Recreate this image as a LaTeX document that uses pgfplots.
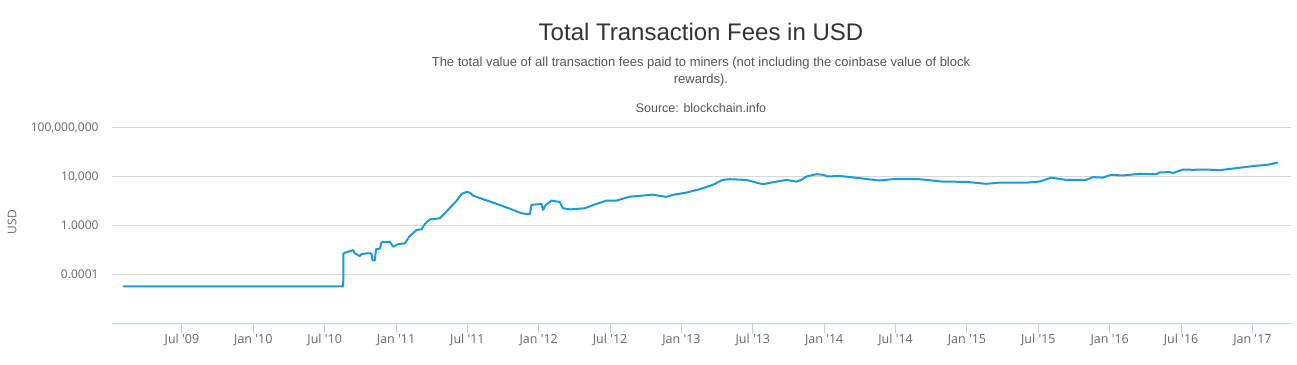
\documentclass[border=0pt]{standalone}
\usepackage{pgfplots}
\pgfplotsset{compat=1.18}
\usepackage{fontspec}
\setmainfont{Liberation Sans}
\newfontfamily\tickfont{Open Sans}
\definecolor{linecol}{HTML}{1A9BD7}
\definecolor{gridcol}{HTML}{D8D8D8}
\definecolor{axiscol}{HTML}{C0D0E0}
\definecolor{titlecol}{HTML}{333333}
\definecolor{subcol}{HTML}{555555}
\definecolor{tickcol}{HTML}{666666}

\pgfplotstableread{
x y
2009.087 1e-5
2010.630 1e-5
2010.631 5.1e-3
2010.641 5.8e-3
2010.700 9.5e-3
2010.711 5.1e-3
2010.746 3.1e-3
2010.758 4.5e-3
2010.793 5.1e-3
2010.828 5.1e-3
2010.835 1.4e-3
2010.852 1.4e-3
2010.859 0.011
2010.887 0.013
2010.898 0.042
2010.957 0.047
2010.980 0.018
2011.015 0.030
2011.062 0.034
2011.092 0.12
2011.144 0.43
2011.179 0.49
2011.202 1.3
2011.237 3.2
2011.307 3.9
2011.342 10
2011.389 40
2011.424 105
2011.459 390
2011.494 575
2011.517 500
2011.540 280
2011.610 145
2011.692 68
2011.797 24
2011.879 10
2011.937 8.3
2011.949 49
2012.019 59
2012.030 19
2012.049 49
2012.089 110
2012.147 85
2012.170 26
2012.217 21
2012.322 26
2012.404 59
2012.474 110
2012.544 110
2012.637 234
2012.707 270
2012.798 340
2012.847 270
2012.894 224
2012.938 324
2013.034 500
2013.127 955
2013.218 2140
2013.288 5500
2013.337 6300
2013.454 5500
2013.525 3300
2013.571 2450
2013.665 4000
2013.735 5500
2013.805 4000
2013.840 5500
2013.875 10500
2013.945 16200
2013.991 14500
2014.026 10500
2014.108 11700
2014.248 7600
2014.388 4900
2014.481 6300
2014.667 6300
2014.831 4000
2014.995 3800
2015.135 2630
2015.228 3300
2015.415 3300
2015.508 4000
2015.590 8500
2015.695 5500
2015.835 5500
2015.882 9300
2015.952 8500
2016.010 14500
2016.092 12600
2016.209 17400
2016.326 16200
2016.349 22400
2016.419 24000
2016.442 20000
2016.512 38900
2016.582 37200
2016.676 38900
2016.769 34700
2016.862 46800
2017.001 74100
2017.118 100000
2017.177 148000
}\feesdata

\begin{document}
\begin{tikzpicture}
\path[use as bounding box] (0pt,0pt) rectangle (1297pt,364pt);
\begin{axis}[
  at={(112pt,41pt)}, anchor=south west,
  scale only axis, width=1179pt, height=195pt,
  xmin=2009.01, xmax=2017.27,
  ymode=log, ymin=1e-8, ymax=1e8,
  axis x line*=bottom, axis y line*=left,
  y axis line style={draw=none},
  x axis line style={draw=axiscol, line width=1pt, -},
  ytick={1e-4,1,1e4,1e8},
  yticklabels={0.0001,1.0000,{10,000},{100,000,000}},
  ytick style={draw=none},
  ymajorgrids, grid style={draw=gridcol, line width=1pt},
  xtick={2009.5,2010,2010.5,2011,2011.5,2012,2012.5,2013,2013.5,2014,2014.5,2015,2015.5,2016,2016.5,2017},
  xticklabels={Jul '09,Jan '10,Jul '10,Jan '11,Jul '11,Jan '12,Jul '12,Jan '13,Jul '13,Jan '14,Jul '14,Jan '15,Jul '15,Jan '16,Jul '16,Jan '17},
  tick align=outside, major tick length=10pt,
  xtick style={draw=axiscol, line width=1pt},
  minor tick num=0,
  xticklabel style={font=\tickfont\fontsize{12.5}{14}\selectfont, text=tickcol, anchor=base, yshift=-10pt},
  xticklabel shift=0pt,
  yticklabel style={font=\tickfont\fontsize{12}{14}\selectfont, text=tickcol, anchor=east, xshift=0pt},
  clip=false,
]
\addplot[linecol, line width=2pt, line join=round, mark=none] table[x=x,y=y] {\feesdata};
\end{axis}
\node[text=tickcol, font=\tickfont\fontsize{12}{14}\selectfont, rotate=90] at (12pt,142pt) {USD};
\node[text=titlecol, font=\fontsize{24}{28}\selectfont] at (701pt,332pt) {Total Transaction Fees in USD};
\node[text=subcol, font=\fontsize{13}{17}\selectfont, align=center] at (701pt,292pt) {The total value of all transaction fees paid to miners (not including the coinbase value of block\\ rewards).};
\node[text=subcol, font=\fontsize{12.5}{14}\selectfont] at (701pt,256pt) {Source: blockchain.info};
\end{tikzpicture}
\end{document}
